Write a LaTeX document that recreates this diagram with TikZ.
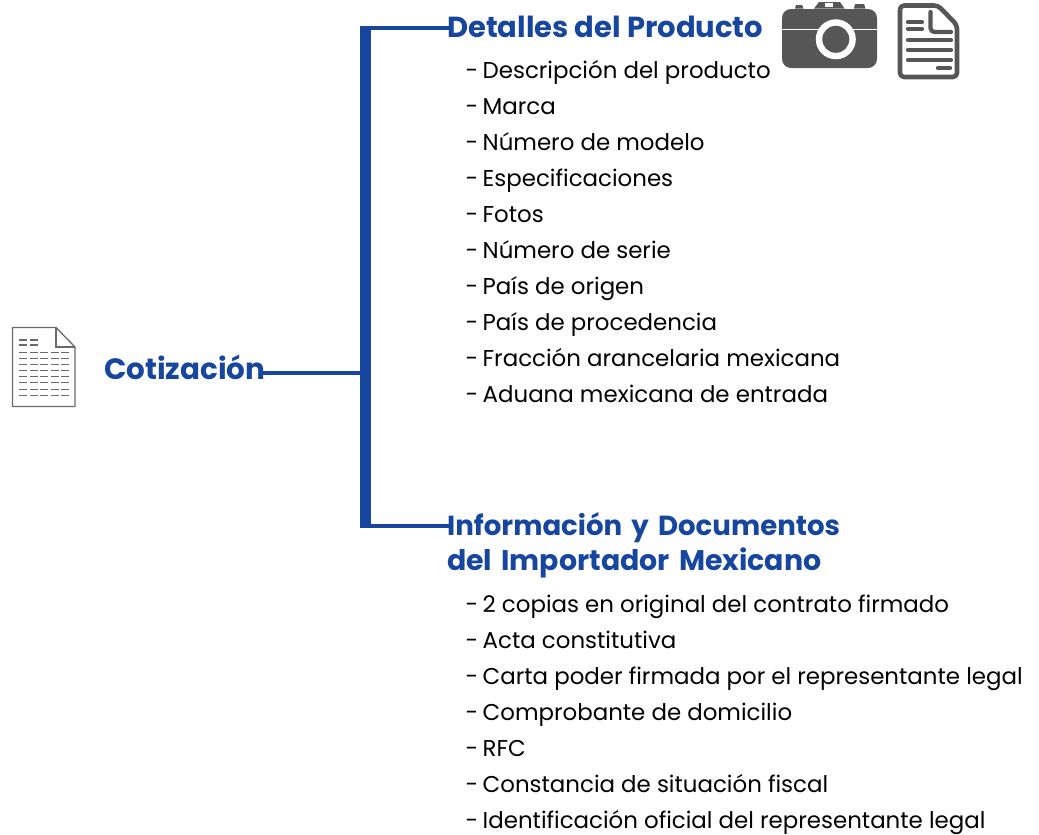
\documentclass[tikz,border=0pt]{standalone}
\usepackage{fontspec}
\setmainfont{Poppins}
\definecolor{azul}{HTML}{17469E}
\definecolor{gris}{HTML}{565656}
\definecolor{grisdoc}{HTML}{6A6A6A}
\newcommand{\guion}{\makebox[17pt][l]{-}}
\tikzset{
  head/.style={font=\fontsize{29}{35}\selectfont\bfseries, text=azul, anchor=base west, inner sep=0pt, align=left},
  item/.style={font=\fontsize{22.9}{30}\selectfont, text=black, anchor=base west, inner sep=0pt},
  thin link/.style={draw=azul, line width=4.5pt},
  bus/.style={draw=azul, line width=11pt},
  docline/.style={draw=grisdoc, line width=1.1pt},
  iconline/.style={draw=gris, line width=4.2pt, line cap=round}
}
\begin{document}
\begin{tikzpicture}[x=1pt,y=-1pt]
\useasboundingbox (0,0) rectangle (1039,835);
% texts
\node[head, font=\fontsize{29.4}{35}\selectfont\bfseries] (root) at (104,379) {Cotización};
\node[head] (h1) at (447,37) {Detalles del Producto};
\node[head, font=\fontsize{27.6}{35}\selectfont\bfseries, text width=420pt] (h2) at (447,535) {Información y Documentos\\{\fontsize{28.4}{35}\selectfont del Importador Mexicano}};
\foreach \t [count=\i from 0] in {Descripción del producto,Marca,Número de modelo,Especificaciones,Fotos,Número de serie,País de origen,País de procedencia,Fracción arancelaria mexicana,Aduana mexicana de entrada}
  \node[item] (a\i) at (465.5,{78+36*\i}) {\guion\t};
\foreach \t [count=\i from 0] in {2 copias en original del contrato firmado,Acta constitutiva,Carta poder firmada por el representante legal,Comprobante de domicilio,RFC,Constancia de situación fiscal,Identificación oficial del representante legal}
  \node[item] (b\i) at (465.5,{612+36*\i}) {\guion\t};
% connectors
\coordinate (bt) at (365,25.5);
\coordinate (bb) at (365,528);
\coordinate (bm) at (365,373);
\coordinate (bh1) at (365,28);
\coordinate (bh2) at (365,526);
\draw[bus] (bt) -- (bb);
\draw[thin link] (bm) -- (262,373);
\draw[thin link] (bh1) -- (449,28);
\draw[thin link] (bh2) -- (449,526);
% left document
\draw[draw=grisdoc, line width=1.3pt, line join=round] (12.5,327.5) -- (56,327.5) -- (75,347) -- (75,406.5) -- (12.5,406.5) -- cycle;
\draw[draw=grisdoc, line width=1.3pt] (56,327.5) -- (56,347) -- (75,347);
\foreach \y in {340,345} {
  \draw[docline] (19,\y) -- (27,\y);
  \draw[docline] (29.5,\y) -- (38,\y);
}
\foreach \y in {352.7,358.7,364.7,370.7,376.7,382.7,389.3,395.3}
  \foreach \x in {19,29.5,40,50.5,61}
    \draw[docline] (\x,\y) -- +(8,0);
% camera
\fill[gris] (795,8.5) -- (796,5) -- (802,5) -- (803.5,8.5) -- cycle;
\fill[gris] (854,8.5) -- (855,4) -- (864,4) -- (865.5,8.5) -- cycle;
\fill[gris] (814,8.5) -- (819,2) -- (840,2) -- (844.5,8.5) -- cycle;
\fill[white] (825,3) rectangle (833,7);
\fill[gris, rounded corners=9pt] (782,9) rectangle (877,68);
\draw[white, line width=1.6pt] (782,29.5) -- (877,29.5);
\fill[white] (835.8,39.3) circle[radius=20];
\fill[gris] (835.8,39.3) circle[radius=13.5];
% document icon
\draw[draw=gris, line width=4.6pt, line join=round, rounded corners=4pt] (900,5.5) -- (938,5.5) -- (957,25) -- (957,77) -- (900,77) -- cycle;
\draw[iconline] (908,22) -- (922,22);
\draw[iconline] (908,29) -- (922,29);
\draw[iconline, rounded corners=4pt] (930.5,12) -- (930.5,32) -- (951,32);
\foreach \y in {40,50,60}
  \draw[iconline] (908,\y) -- (951,\y);
\draw[iconline] (938,68) -- (950,68);
\end{tikzpicture}
\end{document}
